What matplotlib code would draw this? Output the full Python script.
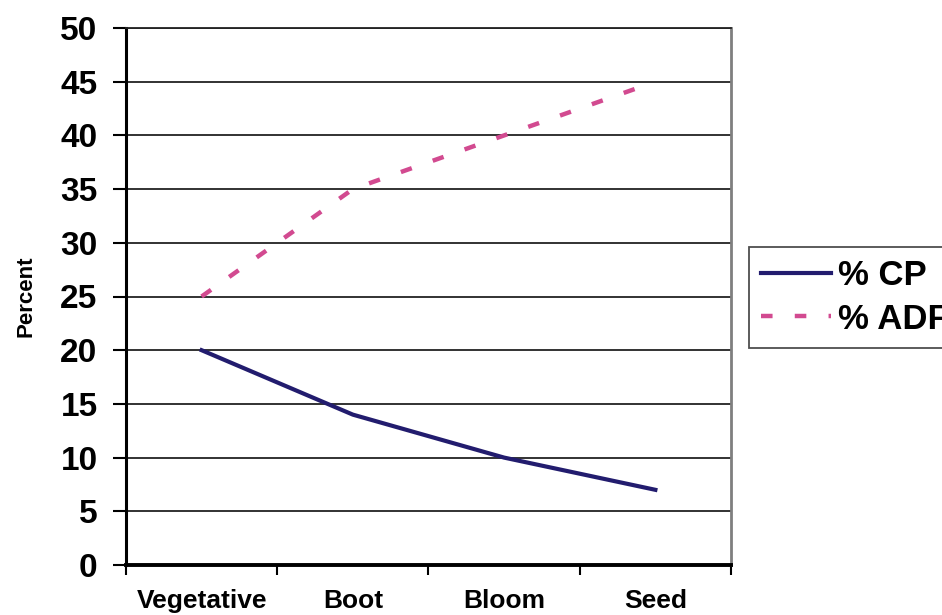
import numpy as np
import matplotlib.pyplot as plt

plt.rcParams['font.family'] = ['Liberation Sans', 'DejaVu Sans']
plt.rcParams['font.weight'] = 'bold'

stages = ['Vegetative', 'Boot', 'Bloom', 'Seed']
cp = [20, 14, 10, 7]
adf = [25, 35, 40, 45]

fig = plt.figure(figsize=(9.42, 6.15), dpi=100)
ax = fig.add_axes([126/942, 1 - 565/615, (731 - 126)/942, (565 - 28)/615])

x = np.arange(len(stages))
ax.plot(x, cp, color='#221c6e', lw=3, label='% CP', zorder=3)
ax.plot(x, adf, color='#d24a90', lw=3.2, ls=(0, (2.6, 5.0)), label='% ADF', zorder=3)

ax.set_xlim(-0.5, 3.5)
ax.set_ylim(0, 50)
ax.set_yticks(np.arange(0, 51, 5))
ax.set_xticks(x)
ax.set_xticklabels(stages, fontsize=19, fontweight='bold')
ax.set_xticks(np.arange(-0.5, 3.6, 1), minor=True)
ax.tick_params(axis='x', which='major', length=0, pad=17)
ax.tick_params(axis='x', which='minor', length=7, width=1.5, direction='out')
ax.tick_params(axis='y', labelsize=24, length=9.5, width=1.5, direction='out', pad=11)
for lab in ax.get_yticklabels():
    lab.set_fontweight('bold')

ax.yaxis.grid(True, color='#222222', lw=1.3)
ax.set_axisbelow(True)
ax.spines['left'].set_linewidth(2.2)
ax.spines['bottom'].set_linewidth(2.8)
ax.spines['right'].set_color('#7f7f7f')
ax.spines['right'].set_linewidth(2)
ax.spines['top'].set_color('#222222')
ax.spines['top'].set_linewidth(1.3)

ax.set_ylabel('Percent', fontsize=16, fontweight='bold', labelpad=17)

leg = fig.legend(loc='upper left', bbox_to_anchor=(749/942, 1 - 247/615),
                 fontsize=25, frameon=True, fancybox=False, edgecolor='#222222',
                 handlelength=2.0, handletextpad=0.2, borderpad=0.35, labelspacing=0.3,
                 borderaxespad=0)
leg.get_frame().set_linewidth(1.3)
for t in leg.get_texts():
    t.set_fontweight('bold')

fig.savefig('out.png', dpi=100)
